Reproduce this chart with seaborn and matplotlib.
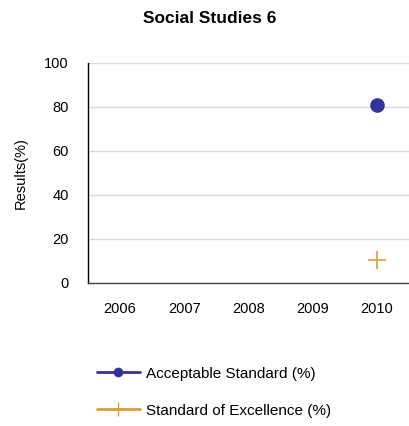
import numpy as np
import pandas as pd
import matplotlib
matplotlib.use('Agg')
import matplotlib.pyplot as plt
from matplotlib.lines import Line2D
import seaborn as sns

# chart data
years = ['2006', '2007', '2008', '2009', '2010']
acceptable = [np.nan, np.nan, np.nan, np.nan, 81.0]
excellence = [np.nan, np.nan, np.nan, np.nan, 10.5]
series_names = ['Acceptable Standard (%)', 'Standard of Excellence (%)']
y_ticks = [0, 20, 40, 60, 80, 100]

sns.set_style('white')
plt.rcParams['font.family'] = ['Liberation Sans', 'DejaVu Sans']
plt.rcParams['text.color'] = 'black'
plt.rcParams['xtick.color'] = 'black'
plt.rcParams['ytick.color'] = 'black'
plt.rcParams['axes.labelcolor'] = 'black'

df = pd.DataFrame({
    'pos': list(range(len(years))) * 2,
    'value': acceptable + excellence,
    'series': [series_names[0]] * len(years) + [series_names[1]] * len(years),
})

fig = plt.figure(figsize=(4.09, 4.26), dpi=100)
ax = fig.add_axes([88 / 409, (426 - 283) / 426, 321 / 409, 220 / 426])

colors = {series_names[0]: '#333399', series_names[1]: '#d9a033'}
markers = {series_names[0]: 'o', series_names[1]: '+'}
sizes = {series_names[0]: 10.5, series_names[1]: 13}

for name in series_names:
    sub = df[df['series'] == name]
    sns.lineplot(data=sub, x='pos', y='value', ax=ax, color=colors[name],
                 linewidth=2, marker=markers[name], markersize=sizes[name],
                 markeredgecolor=colors[name], markerfacecolor=colors[name],
                 markeredgewidth=1.2 if name == series_names[1] else 0,
                 legend=False)

ax.set_xlim(-0.5, len(years) - 0.5)
ax.set_ylim(0, 100)
ax.set_yticks(y_ticks)
ax.set_xticks(range(len(years)))
ax.set_xticklabels(years, fontsize=10.5)
ax.tick_params(axis='y', labelsize=10.5, length=0, pad=14)
ax.tick_params(axis='x', length=0, pad=14)
ax.yaxis.grid(True, color='#d9d9d9', linewidth=1)
ax.set_axisbelow(True)
for s in ['top', 'right']:
    ax.spines[s].set_visible(False)
ax.spines['left'].set_color('black')
ax.spines['left'].set_linewidth(1)
ax.spines['bottom'].set_color('#444444')
ax.spines['bottom'].set_linewidth(1)
ax.set_xlabel('')
ax.set_ylabel('Results(%)', fontsize=10.5, labelpad=12)

fig.suptitle('Social Studies 6', fontsize=12.5, fontweight='bold', x=0.513, y=0.975)

# legend with smaller markers than on the plot
handles = [Line2D([], [], color=colors[n], linewidth=2, marker=markers[n],
                  markersize=7 if n == series_names[0] else 10,
                  markeredgewidth=0 if n == series_names[0] else 1)
           for n in series_names]
fig.legend(handles, series_names, loc='upper left', bbox_to_anchor=(83 / 409, 1 - 353 / 426),
           frameon=False, fontsize=11, handlelength=2.8, handletextpad=0.4,
           labelspacing=1.5)

fig.savefig('out.png', dpi=100)
